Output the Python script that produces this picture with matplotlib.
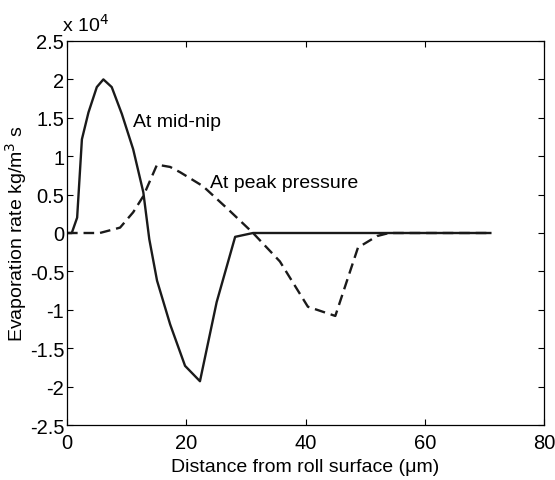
import matplotlib
matplotlib.use("Agg")
import matplotlib.pyplot as plt
import numpy as np

# values in units of 1e4 kg/m^3 s
mid_x = [0, 0.8, 1.7, 2.5, 3.6, 5.0, 6.1, 7.5, 9.2, 11.1, 12.8, 13.8, 15.1, 17.3, 19.8, 22.3, 25.1, 28.2, 31.2, 71.0]
mid_y = [0, 0, 0.2, 1.22, 1.57, 1.9, 2.0, 1.9, 1.55, 1.09, 0.53, -0.08, -0.62, -1.19, -1.73, -1.93, -0.90, -0.05, 0, 0]

peak_x = [0, 5.5, 8.9, 11.1, 12.8, 15.1, 17.3, 19.0, 22.8, 27.0, 31.2, 35.7, 40.4, 45.0, 48.8, 52.0, 54.0, 71.0]
peak_y = [0, 0, 0.07, 0.27, 0.48, 0.89, 0.86, 0.79, 0.61, 0.31, 0.0, -0.37, -0.96, -1.08, -0.19, -0.04, 0, 0]

xticks = [0, 20, 40, 60, 80]
yticks = [-2.5, -2, -1.5, -1, -0.5, 0, 0.5, 1, 1.5, 2, 2.5]
ytick_labels = ["-2.5", "-2", "-1.5", "-1", "-0.5", "0", "0.5", "1", "1.5", "2", "2.5"]

plt.rcParams["font.family"] = ["Liberation Sans", "DejaVu Sans"]
plt.rcParams["font.size"] = 14

fig = plt.figure(figsize=(5.55, 4.81), dpi=100)
ax = fig.add_axes([67 / 555, 1 - 426 / 481, (544 - 67) / 555, (426 - 42) / 481])

ax.plot(mid_x, mid_y, color="#1a1a1a", linewidth=1.7, linestyle="-")
ax.plot(peak_x, peak_y, color="#1a1a1a", linewidth=1.7, linestyle=(0, (4.5, 2.5)))

ax.text(11.1, 1.45, "At mid-nip", ha="left", va="center", fontsize=14)
ax.text(24.0, 0.66, "At peak pressure", ha="left", va="center", fontsize=14)

ax.set_xlim(0, 80)
ax.set_ylim(-2.5, 2.5)
ax.set_xticks(xticks)
ax.set_yticks(yticks)
ax.set_yticklabels(ytick_labels)
ax.tick_params(direction="in", top=True, right=True, length=4, width=0.8, labelsize=14.5)
ax.tick_params(axis="x", pad=6)
ax.tick_params(axis="y", pad=2)
for s in ax.spines.values():
    s.set_linewidth(0.9)

ax.set_xlabel("Distance from roll surface (\u03bcm)", fontsize=14, labelpad=4)
ax.set_ylabel("Evaporation rate kg/m$^{3}$ s", fontsize=14, labelpad=0.5)
ax.text(-0.01, 1.015, "x 10$^{4}$", transform=ax.transAxes, ha="left", va="bottom", fontsize=14)

fig.savefig("out.png", dpi=100)
